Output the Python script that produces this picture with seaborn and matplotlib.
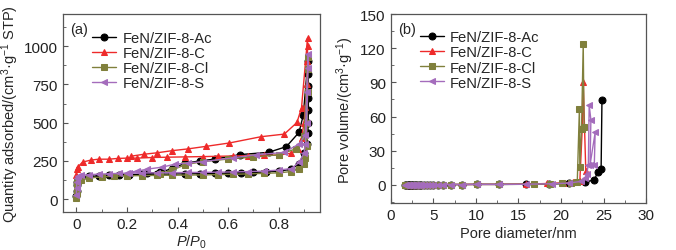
import matplotlib
matplotlib.use("Agg")
import matplotlib.pyplot as plt
from matplotlib.ticker import AutoMinorLocator
import seaborn as sns

# (a) N2 isotherms: adsorption branch then desorption branch
ac_p = [0.0005, 0.001, 0.002, 0.004, 0.008, 0.02, 0.05, 0.09, 0.13, 0.17, 0.21, 0.26, 0.32, 0.38, 0.43, 0.49, 0.55, 0.6, 0.65, 0.7, 0.75, 0.8, 0.85, 0.88,
        0.9, 0.91, 0.915, 0.916, 0.917, 0.917, 0.917, 0.916, 0.915,
        0.897, 0.88, 0.83, 0.76, 0.647, 0.55, 0.49, 0.43, 0.38, 0.33, 0.28]
ac_v = [20, 55, 90, 115, 130, 140, 148, 152, 155, 158, 160, 162, 163, 164, 165, 166, 168, 170, 172, 175, 178, 183, 195, 230,
        300, 360, 430, 500, 580, 660, 740, 820, 900,
        549, 436, 343, 306, 291, 262, 250, 235, 200, 175, 168]

c_p = [0.0005, 0.002, 0.005, 0.025, 0.057, 0.088, 0.128, 0.165, 0.2, 0.24, 0.3, 0.36, 0.43, 0.5, 0.56, 0.62, 0.68, 0.74, 0.8, 0.85, 0.875, 0.89,
       0.9, 0.905, 0.91, 0.913, 0.914, 0.914,
       0.89, 0.872, 0.822, 0.73, 0.605, 0.513, 0.44, 0.38, 0.32, 0.266, 0.218]
c_v = [160, 200, 209, 242, 255, 261, 261, 266, 268, 268, 272, 274, 276, 278, 280, 282, 284, 286, 288, 300, 330, 400,
       500, 600, 750, 900, 1000, 1054,
       598, 501, 425, 408, 367, 345, 328, 317, 303, 293, 281]

cl_p = [0.0005, 0.001, 0.002, 0.004, 0.008, 0.02, 0.05, 0.1, 0.15, 0.2, 0.26, 0.32, 0.38, 0.44, 0.5, 0.56, 0.62, 0.68, 0.74, 0.8, 0.85, 0.88, 0.9,
        0.905, 0.91, 0.912, 0.914, 0.915, 0.915,
        0.9, 0.87, 0.8, 0.7, 0.6, 0.5, 0.43, 0.38, 0.33]
cl_v = [10, 40, 80, 105, 120, 128, 138, 145, 150, 152, 154, 155, 156, 157, 158, 160, 162, 165, 168, 172, 180, 200, 230,
        270, 350, 500, 700, 850, 930,
        410, 330, 290, 275, 262, 245, 225, 190, 165]

s_p = [0.0005, 0.001, 0.002, 0.004, 0.008, 0.02, 0.05, 0.09, 0.13, 0.17, 0.21, 0.26, 0.32, 0.38, 0.44, 0.5, 0.56, 0.62, 0.68, 0.74, 0.8, 0.85, 0.88, 0.9,
       0.905, 0.91, 0.913, 0.915, 0.916,
       0.905, 0.88, 0.82, 0.71, 0.62, 0.5, 0.44, 0.39, 0.34, 0.28, 0.24, 0.2]
s_v = [30, 70, 111, 140, 150, 155, 160, 163, 166, 168, 170, 171, 172, 173, 174, 175, 176, 178, 180, 183, 190, 200, 240, 300,
       360, 500, 700, 860, 950,
       420, 360, 305, 290, 270, 245, 235, 229, 209, 196, 183, 172]

# (b) pore size distributions
low_d = [1.7, 1.85, 2.0, 2.1, 2.2, 2.35, 2.5, 2.65, 2.8, 3.0, 3.2, 3.4, 3.6, 3.9, 4.2, 4.6, 5.0, 5.5, 6.1, 7.1, 8.4, 10.1, 12.7]
low_v = [0.2, 0.2, 0.2, 0.2, 0.2, 0.2, 0.2, 0.2, 0.2, 0.2, 0.2, 0.2, 0.2, 0.2, 0.2, 0.2, 0.2, 0.2, 0.3, 0.3, 0.3, 0.4, 0.4]

ac_d = low_d + [15.9, 18.6, 20.9, 22.8, 23.9, 24.3, 24.7, 24.8]
ac_pv = low_v + [0.5, 0.8, 1.2, 2.3, 4.4, 11, 14, 74.6]
c_d = low_d + [15.9, 18.4, 20.2, 21.4, 22.2, 22.5, 22.6, 22.9]
c_pv = low_v + [0.6, 1.2, 1.8, 2.2, 3, 52, 90, 12.5]
cl_d = low_d + [16.8, 18.7, 20.1, 21.2, 21.9, 22.15, 22.2, 22.4, 22.6, 22.7]
cl_pv = low_v + [0.5, 1.0, 1.2, 1.8, 2.5, 66.6, 16, 49, 123.7, 50.6]
s_d = low_d + [15.9, 18.9, 20.9, 22.3, 22.8, 23.0, 23.2, 23.3, 23.5, 23.4, 24.0, 23.9]
s_pv = low_v + [0.5, 1.0, 1.5, 3, 6, 9.6, 17.5, 70, 57, 17.5, 46, 17.5]

labels = ["FeN/ZIF-8-Ac", "FeN/ZIF-8-C", "FeN/ZIF-8-Cl", "FeN/ZIF-8-S"]
colors = ["#000000", "#ee2a2a", "#80803c", "#a46cbc"]
markers = ["o", "^", "s", "<"]

sns.set_style("ticks")
plt.rcParams["font.family"] = ["Liberation Sans", "DejaVu Sans"]
plt.rcParams["mathtext.fontset"] = "custom"
plt.rcParams["mathtext.rm"] = "Liberation Sans"
plt.rcParams["mathtext.it"] = "Liberation Sans:italic"
plt.rcParams["font.size"] = 10.5
plt.rcParams["axes.edgecolor"] = "#555555"
plt.rcParams["xtick.color"] = "#555555"
plt.rcParams["ytick.color"] = "#555555"
plt.rcParams["xtick.labelcolor"] = "#222222"
plt.rcParams["ytick.labelcolor"] = "#222222"

fig = plt.figure(figsize=(6.76, 2.51), dpi=100)
ax1 = fig.add_axes([0.093, 0.151, 0.380, 0.789])
ax2 = fig.add_axes([0.578, 0.187, 0.378, 0.753])

iso = [(ac_p, ac_v), (c_p, c_v), (cl_p, cl_v), (s_p, s_v)]
psd = [(ac_d, ac_pv), (c_d, c_pv), (cl_d, cl_pv), (s_d, s_pv)]

for ax, sets in [(ax1, iso), (ax2, psd)]:
    for (x, y), lab, col, mk in zip(sets, labels, colors, markers):
        sns.lineplot(x=x, y=y, sort=False, estimator=None, color=col, marker=mk,
                     markersize=5, markeredgecolor=col, linewidth=1.0, label=lab, ax=ax)
    ax.tick_params(direction="in", which="both", labelsize=11)
    ax.tick_params(which="major", length=3.5)
    ax.tick_params(which="minor", length=2)
    ax.xaxis.set_minor_locator(AutoMinorLocator(2))
    ax.yaxis.set_minor_locator(AutoMinorLocator(2))
    for sp in ax.spines.values():
        sp.set_linewidth(0.9)
    ax.legend(loc="upper left", bbox_to_anchor=(0.08, 0.96), frameon=False,
              handlelength=1.6, handletextpad=0.45, labelspacing=0.07, fontsize=10.6,
              borderaxespad=0.2)

ax1.set_xlim(-0.053, 0.962)
ax1.set_ylim(-85, 1210)
ax1.set_xticks([0, 0.2, 0.4, 0.6, 0.8])
ax1.set_xticklabels(["0", "0.2", "0.4", "0.6", "0.8"])
ax1.set_yticks([0, 250, 500, 750, 1000])
ax1.set_xlabel(r"$P/P_\mathrm{0}$", labelpad=1, fontsize=10.5)
ax1.set_ylabel(r"Quantity adsorbed/(cm$^3$·g$^{-1}$ STP)", labelpad=2, fontsize=10.5)
ax1.text(0.03, 0.96, "(a)", transform=ax1.transAxes, va="top", ha="left", fontsize=10.5)

ax2.set_xlim(0, 30)
ax2.set_ylim(-16, 150)
ax2.set_xticks([0, 5, 10, 15, 20, 25, 30])
ax2.set_yticks([0, 30, 60, 90, 120, 150])
ax2.set_xlabel("Pore diameter/nm", labelpad=3, fontsize=10.5)
ax2.set_ylabel(r"Pore volume/(cm$^3$·g$^{-1}$)", labelpad=3, fontsize=10.5)
ax2.text(0.03, 0.96, "(b)", transform=ax2.transAxes, va="top", ha="left", fontsize=10.5)

fig.savefig("out.png", dpi=100)
